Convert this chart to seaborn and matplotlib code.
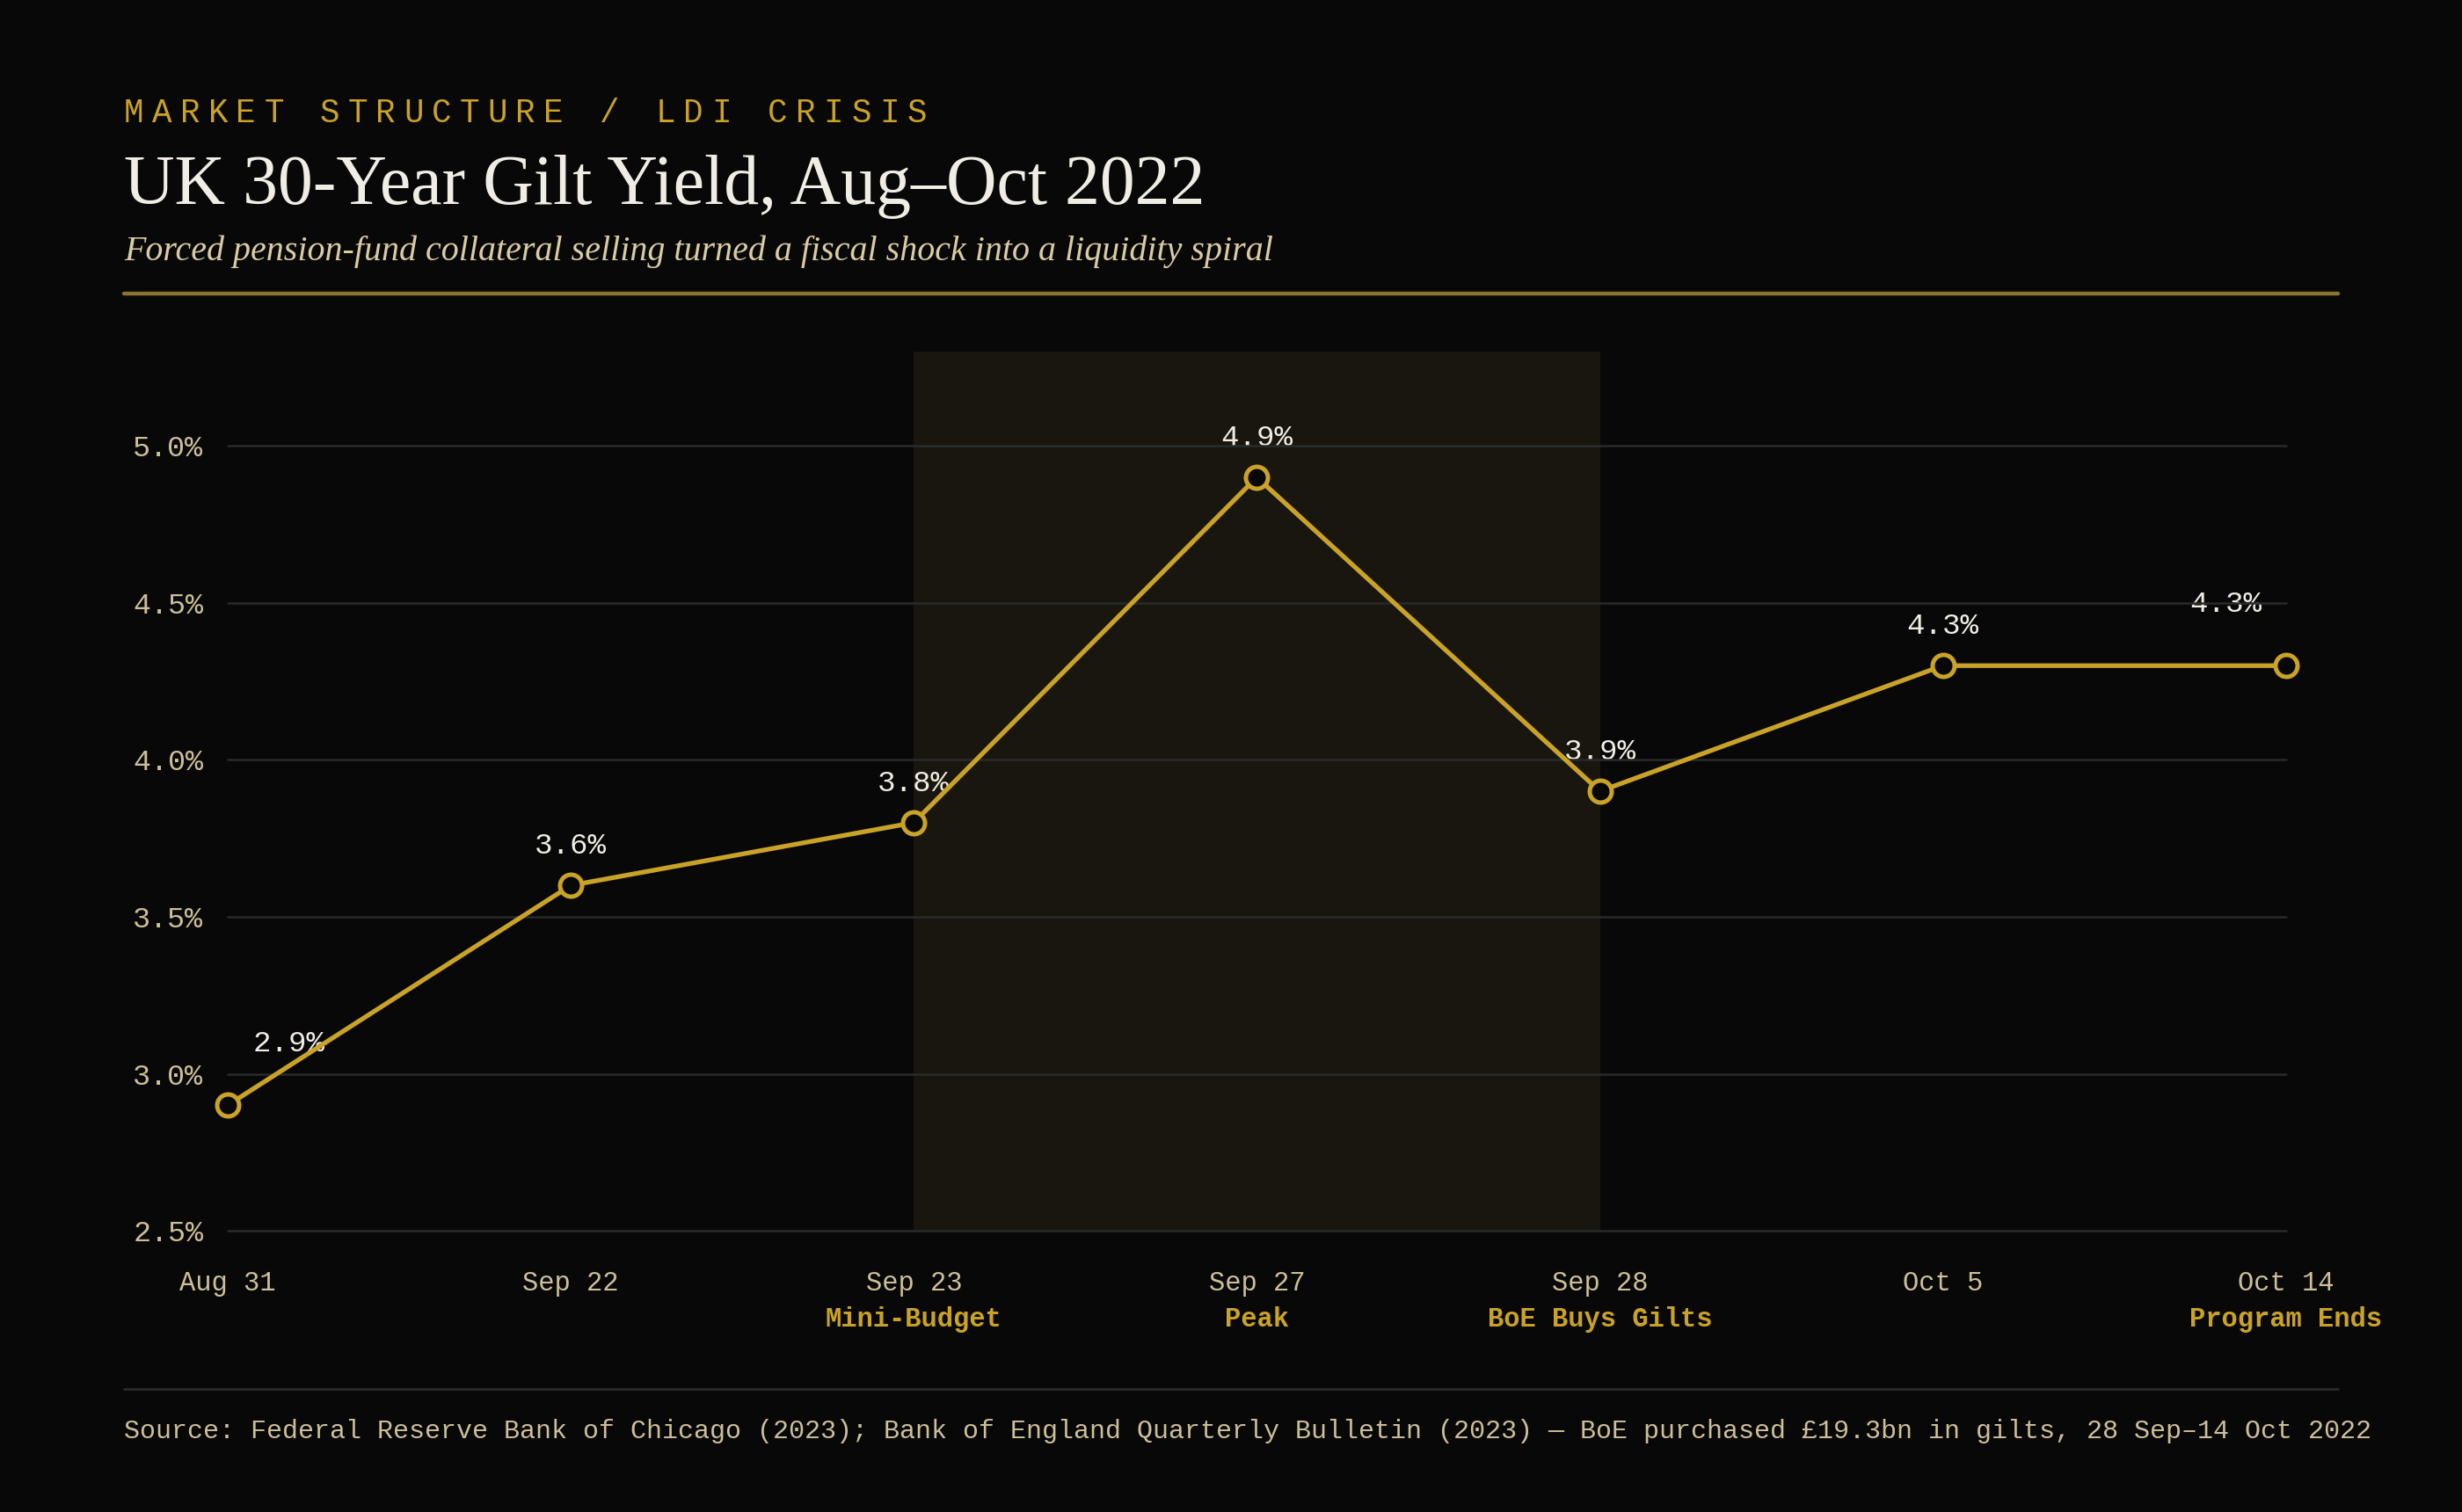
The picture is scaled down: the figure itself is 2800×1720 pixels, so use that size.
import numpy as np
import pandas as pd
import matplotlib
matplotlib.use("Agg")
import matplotlib.pyplot as plt
import seaborn as sns

# data
dates = ["Aug 31", "Sep 22", "Sep 23", "Sep 27", "Sep 28", "Oct 5", "Oct 14"]
events = ["", "", "Mini-Budget", "Peak", "BoE Buys Gilts", "", "Program Ends"]
yields = [2.9, 3.6, 3.8, 4.9, 3.9, 4.3, 4.3]
y_ticks = [2.5, 3.0, 3.5, 4.0, 4.5, 5.0]
shade_from, shade_to = "Sep 23", "Sep 28"

BG = "#080808"
GOLD = "#c9a227"
TAN = "#cdbf98"
WHITE = "#f0ede4"
GRID = "#2a2a2a"
MONO = "Liberation Mono"
SERIF = "Liberation Serif"

sns.set_theme(style="dark")
plt.rcParams["font.family"] = [MONO, "DejaVu Sans"]

df = pd.DataFrame({"pos": np.arange(len(dates)), "date": dates, "yield": yields})

fig = plt.figure(figsize=(14, 8.6), dpi=200, facecolor=BG)
ax = fig.add_axes([0.0925, 0.186, 0.836, 0.5814])
ax.set_facecolor(BG)

x0 = dates.index(shade_from)
x1 = dates.index(shade_to)
ax.axvspan(x0, x1, color="#18160e", zorder=0, lw=0)

# value labels (drawn under the grid lines, like the original)
n = len(dates)
for i, v in enumerate(yields):
    if i == 0:
        off = (25, 25)
    elif i == n - 1:
        off = (-24.5, 25)
    else:
        off = (0, 16)
    ax.annotate(f"{v:.1f}%", (i, v), xytext=off, textcoords="offset points",
                ha="center", va="center", color=WHITE, fontsize=12.3,
                family=MONO, zorder=0.5)

for t in y_ticks:
    ax.axhline(t, color=GRID, lw=0.9, zorder=1)

sns.lineplot(data=df, x="pos", y="yield", ax=ax, color=GOLD, lw=1.9,
             marker="o", markersize=9, markerfacecolor=BG,
             markeredgecolor=GOLD, markeredgewidth=1.8, zorder=3)
for ln in ax.lines:
    ln.set_clip_on(False)

ax.set_xlim(0, n - 1)
ax.set_ylim(2.5, 5.3)
ax.set_yticks(y_ticks)
ax.set_yticklabels([f"{t:.1f}%" for t in y_ticks])
ax.set_xticks(range(n))
ax.set_xticklabels(dates)
ax.tick_params(axis="y", colors=TAN, labelsize=12, length=0, pad=10)
ax.tick_params(axis="x", colors=TAN, labelsize=11, length=0, pad=16)
ax.set_xlabel("")
ax.set_ylabel("")
ax.grid(False)
for s in ax.spines.values():
    s.set_visible(False)

for i, e in enumerate(events):
    if e:
        ax.annotate(e, (i, 0), xycoords=("data", "axes fraction"),
                    xytext=(0, -31), textcoords="offset points",
                    ha="center", va="top", color=GOLD, fontsize=11,
                    fontweight="bold", family=MONO)

# header
kicker = "MARKET STRUCTURE / LDI CRISIS"
pitch = 0.01136
for k, ch in enumerate(kicker):
    fig.text(0.0504 + k * pitch, 0.919, ch, color=GOLD, fontsize=13.5,
             family=MONO, ha="left", va="baseline")
fig.text(0.0504, 0.865, "UK 30-Year Gilt Yield, Aug\u2013Oct 2022", color=WHITE,
         fontsize=28.7, family=SERIF, ha="left", va="baseline")
fig.text(0.0504, 0.828,
         "Forced pension-fund collateral selling turned a fiscal shock into a liquidity spiral",
         color="#d9cba3", fontsize=14.4, family=SERIF, style="italic",
         ha="left", va="baseline")

fig.add_artist(plt.Line2D([0.0504, 0.9497], [0.806, 0.806], color="#8a7430", lw=1.6))
fig.add_artist(plt.Line2D([0.0504, 0.9497], [0.0815, 0.0815], color=GRID, lw=1.0))

fig.text(0.0504, 0.049,
         "Source: Federal Reserve Bank of Chicago (2023); Bank of England Quarterly Bulletin (2023) "
         "\u2014 BoE purchased \u00a319.3bn in gilts, 28 Sep\u201314 Oct 2022",
         color=TAN, fontsize=10.8, family=[MONO, "DejaVu Sans"], ha="left", va="baseline")

fig.savefig("out.png", dpi=200, facecolor=BG)
